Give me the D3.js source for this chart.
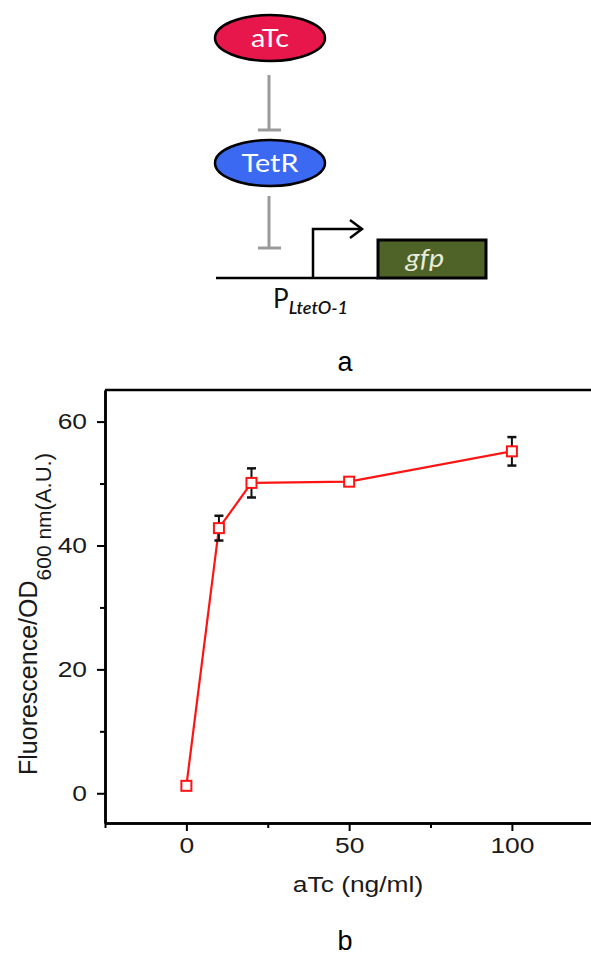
<!DOCTYPE html>
<html>
<head>
<meta charset="utf-8">
<script src="https://cdn.jsdelivr.net/npm/d3@7"></script>
<style>
  body { margin: 0; background: #fff; }
  svg { display: block; }
</style>
</head>
<body>
<div id="chart"></div>
<script>
// aTc dose response (panel b)
const doses = [0, 10, 20, 50, 100];
const fluorescence = [1.2, 42.8, 50.1, 50.3, 55.2];
const errors = [0, 2.0, 2.35, 0.6, 2.3];
const xMajorTicks = [0, 50, 100];
const xMinorTicks = [-25, 25, 75];
const yMajorTicks = [0, 20, 40, 60];
const yMinorTicks = [10, 30, 50];

const width = 591, height = 961;
const plot = { left: 105, right: 591, top: 390, bottom: 823 };

const svg = d3.select("#chart").append("svg")
    .attr("width", width)
    .attr("height", height)
    .style("font-family", "'Liberation Sans', Arial, sans-serif");

// ---- panel a: circuit schematic ----
const diag = svg.append("g").style("font-family", "Lato, 'Open Sans', sans-serif");

const nodes = [
    { name: "aTc", cx: 270, cy: 38, fill: "#e8174b" },
    { name: "TetR", cx: 270, cy: 163, fill: "#3b69f1" }
];

// inhibition arrows
const inhib = [[75, 130], [196, 248]];
inhib.forEach(([y0, y1]) => {
    diag.append("line").attr("x1", 269).attr("x2", 269).attr("y1", y0).attr("y2", y1)
        .attr("stroke", "#9a9a9a").attr("stroke-width", 3);
    diag.append("line").attr("x1", 258).attr("x2", 281).attr("y1", y1).attr("y2", y1)
        .attr("stroke", "#9a9a9a").attr("stroke-width", 3);
});

nodes.forEach(n => {
    diag.append("ellipse").attr("cx", n.cx).attr("cy", n.cy).attr("rx", 55).attr("ry", 23)
        .attr("fill", n.fill).attr("stroke", "#000").attr("stroke-width", 2.5);
    diag.append("text")
        .attr("transform", `translate(${n.cx},${n.cy + 9}) scale(1.15,1)`)
        .attr("text-anchor", "middle")
        .attr("fill", "#fff")
        .style("font-size", "25px")
        .text(n.name);
});

// DNA backbone + promoter arrow
diag.append("line").attr("x1", 216).attr("x2", 378).attr("y1", 278).attr("y2", 278)
    .attr("stroke", "#000").attr("stroke-width", 2.5);
diag.append("path")
    .attr("d", "M313,278 V229 H360")
    .attr("fill", "none").attr("stroke", "#000").attr("stroke-width", 2.5);
diag.append("path")
    .attr("d", "M350,220 L362,229 L350,238")
    .attr("fill", "none").attr("stroke", "#000").attr("stroke-width", 2.5);

diag.append("rect").attr("x", 378).attr("y", 240).attr("width", 108).attr("height", 38)
    .attr("fill", "#4f6228").attr("stroke", "#000").attr("stroke-width", 3);
diag.append("text")
    .attr("transform", "translate(425,267) scale(1.15,1)")
    .attr("text-anchor", "middle")
    .attr("fill", "#e6ecd8")
    .style("font-size", "25px")
    .style("font-style", "italic")
    .text("gfp");

const prom = diag.append("text")
    .attr("x", 273).attr("y", 308)
    .attr("fill", "#111")
    .style("font-size", "26px");
prom.append("tspan").text("P");
prom.append("tspan").attr("dy", 6).style("font-size", "18px").style("font-style", "italic")
    .style("font-weight", "600").text("LtetO-1");

svg.append("text")
    .attr("x", 345).attr("y", 371)
    .attr("text-anchor", "middle")
    .style("font-size", "27px")
    .text("a");

// ---- panel b: dose response ----
const x = d3.scaleLinear().domain([-25, 124.3]).range([plot.left, plot.right]);
const y = d3.scaleLinear().domain([-4.8, 65.1]).range([plot.bottom, plot.top]);

// frame top line
svg.append("line")
    .attr("x1", plot.left).attr("x2", plot.right)
    .attr("y1", plot.top).attr("y2", plot.top)
    .attr("stroke", "#000").attr("stroke-width", 2.5);

const xAxis = svg.append("g")
    .attr("transform", `translate(0,${plot.bottom})`)
    .call(d3.axisBottom(x).tickValues(xMajorTicks).tickSize(8).tickPadding(6).tickSizeOuter(0));
svg.append("g")
    .attr("transform", `translate(0,${plot.bottom})`)
    .call(d3.axisBottom(x).tickValues(xMinorTicks).tickSize(5).tickFormat("").tickSizeOuter(0));

const yAxis = svg.append("g")
    .attr("transform", `translate(${plot.left},0)`)
    .call(d3.axisLeft(y).tickValues(yMajorTicks).tickSize(8).tickPadding(6).tickSizeOuter(0));
svg.append("g")
    .attr("transform", `translate(${plot.left},0)`)
    .call(d3.axisLeft(y).tickValues(yMinorTicks).tickSize(5).tickFormat("").tickSizeOuter(0));

svg.selectAll(".domain").attr("stroke", "#000").attr("stroke-width", 2.5);
svg.selectAll(".tick line").attr("stroke", "#000").attr("stroke-width", 2);

xAxis.selectAll("text")
    .style("font-size", "22px")
    .attr("fill", "#1a1a1a")
    .attr("y", 14)
    .attr("dy", "0.71em")
    .attr("transform", "scale(1.2,1)");
yAxis.selectAll("text")
    .style("font-size", "22px")
    .attr("fill", "#1a1a1a")
    .attr("x", -15)
    .attr("transform", "scale(1.2,1)");

// axis labels
svg.append("text")
    .attr("transform", `translate(358,892) scale(1.2,1)`)
    .attr("text-anchor", "middle")
    .attr("fill", "#1a1a1a")
    .style("font-size", "22px")
    .text("aTc (ng/ml)");

const yLab = svg.append("text")
    .attr("transform", "translate(37,775) rotate(-90)")
    .attr("fill", "#1a1a1a")
    .style("font-size", "25px");
yLab.append("tspan").text("Fluorescence/OD");
yLab.append("tspan").attr("dy", 14).style("font-size", "21px").text("600 nm");
yLab.append("tspan").style("font-size", "22px").text("(A.U.)");

// data line
const pts = doses.map((d, i) => ({ dose: d, val: fluorescence[i], err: errors[i] }));

svg.append("path")
    .datum(pts)
    .attr("fill", "none")
    .attr("stroke", "#ff1414")
    .attr("stroke-width", 2.2)
    .attr("d", d3.line().x(d => x(d.dose)).y(d => y(d.val)));

// error bars
const eb = svg.append("g").attr("stroke", "#111").attr("stroke-width", 2);
pts.filter(d => d.err > 0).forEach(d => {
    eb.append("line").attr("x1", x(d.dose)).attr("x2", x(d.dose))
        .attr("y1", y(d.val + d.err)).attr("y2", y(d.val - d.err));
    [d.val + d.err, d.val - d.err].forEach(v => {
        eb.append("line").attr("x1", x(d.dose) - 4.5).attr("x2", x(d.dose) + 4.5)
            .attr("y1", y(v)).attr("y2", y(v)).attr("stroke-width", 2.5);
    });
});

// markers
svg.selectAll(".marker")
    .data(pts)
    .enter()
    .append("rect")
    .attr("class", "marker")
    .attr("x", d => x(d.dose) - 5)
    .attr("y", d => y(d.val) - 5)
    .attr("width", 10)
    .attr("height", 10)
    .attr("fill", "#fff")
    .attr("stroke", "#ff1414")
    .attr("stroke-width", 2);

svg.append("text")
    .attr("x", 345).attr("y", 950)
    .attr("text-anchor", "middle")
    .style("font-size", "27px")
    .text("b");
</script>
</body>
</html>
